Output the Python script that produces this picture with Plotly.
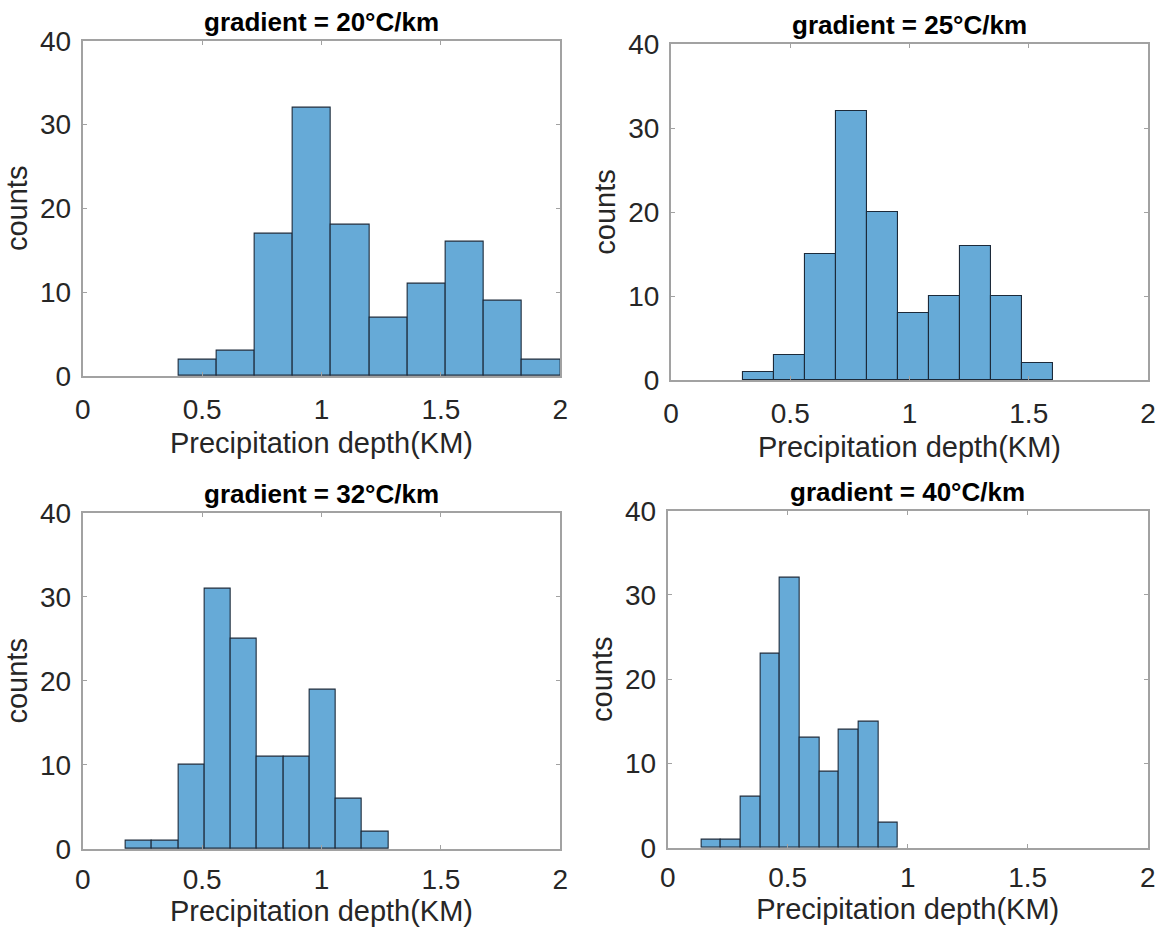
import numpy as np
import plotly.graph_objects as go

# Histogram counts of precipitation depth for each geothermal gradient
titles = ["gradient = 20°C/km", "gradient = 25°C/km",
          "gradient = 32°C/km", "gradient = 40°C/km"]

counts_20 = [2, 3, 17, 32, 18, 7, 11, 16, 9, 2]
counts_25 = [1, 3, 15, 32, 20, 8, 10, 16, 10, 2]
counts_32 = [1, 1, 10, 31, 25, 11, 11, 19, 6, 2]
counts_40 = [1, 1, 6, 23, 32, 13, 9, 14, 15, 3]

# first bin edge and bin width (KM) of each histogram
bin_start = [0.40, 0.30, 0.18, 0.14]
bin_width = [0.16, 0.13, 0.11, 0.082]

x_ticks = [0, 0.5, 1, 1.5, 2]
x_tick_text = ["0", "0.5", "1", "1.5", "2"]
y_ticks = [0, 10, 20, 30, 40]

W, H = 1163, 938
# axes boxes in pixels: left, right, top, bottom
boxes = [(82.7, 560.3, 40.7, 376.0),
         (671.0, 1148.0, 44.0, 380.0),
         (82.7, 560.3, 512.7, 849.0),
         (667.7, 1147.7, 510.7, 847.7)]
# label spacing under each x axis (top row a little looser)
xtick_standoff = [7, 7, 4, 4]
xtitle_standoff = [9, 9, 0, 0]

FONT = "Liberation Sans, Arial, Helvetica, sans-serif"
BAR_FILL = "#66aad7"
BAR_EDGE = "#1c2a3a"
FRAME = "#a2a2a2"
TEXT = "#262626"

fig = go.Figure()
all_counts = [counts_20, counts_25, counts_32, counts_40]
annotations = []
for i, counts in enumerate(all_counts):
    n = len(counts)
    centers = bin_start[i] + bin_width[i] * (np.arange(n) + 0.5)
    xa = "x" if i == 0 else f"x{i + 1}"
    ya = "y" if i == 0 else f"y{i + 1}"
    fig.add_trace(go.Bar(
        x=centers, y=counts, width=bin_width[i],
        marker=dict(color=BAR_FILL, line=dict(color=BAR_EDGE, width=1.1)),
        xaxis=xa, yaxis=ya, showlegend=False, hoverinfo="x+y",
    ))
    l, r, t, b = boxes[i]
    xd = [l / W, r / W]
    yd = [1 - b / H, 1 - t / H]
    key = "" if i == 0 else str(i + 1)
    fig.layout[f"xaxis{key}"] = dict(
        domain=xd, range=[0, 2], anchor=ya, automargin=False,
        tickvals=x_ticks, ticktext=x_tick_text,
        showline=True, linecolor=FRAME, linewidth=2, mirror="ticks",
        ticks="inside", ticklen=4, tickcolor=FRAME, tickwidth=1,
        showgrid=False, zeroline=False,
        tickfont=dict(family=FONT, size=28, color=TEXT),
        ticklabelstandoff=xtick_standoff[i],
        title=dict(text="Precipitation depth(KM)", standoff=xtitle_standoff[i],
                   font=dict(family=FONT, size=29, color=TEXT)),
        fixedrange=True,
    )
    fig.layout[f"yaxis{key}"] = dict(
        domain=yd, range=[0, 40], anchor=xa, automargin=False,
        tickvals=y_ticks,
        showline=True, linecolor=FRAME, linewidth=2, mirror="ticks",
        ticks="inside", ticklen=4, tickcolor=FRAME, tickwidth=1,
        showgrid=False, zeroline=False,
        tickfont=dict(family=FONT, size=28, color=TEXT),
        ticklabelstandoff=4,
        title=dict(text="counts", standoff=4,
                   font=dict(family=FONT, size=29, color=TEXT)),
        fixedrange=True,
    )
    annotations.append(dict(
        text=f"<b>{titles[i]}</b>", x=(xd[0] + xd[1]) / 2, y=yd[1],
        xref="paper", yref="paper", xanchor="center", yanchor="bottom",
        yshift=2, showarrow=False,
        font=dict(family=FONT, size=26, color="#000000"),
    ))

fig.update_layout(
    width=W, height=H,
    margin=dict(l=0, r=0, t=0, b=0),
    paper_bgcolor="white", plot_bgcolor="white",
    bargap=0, annotations=annotations,
)

fig.write_html("out.html")
